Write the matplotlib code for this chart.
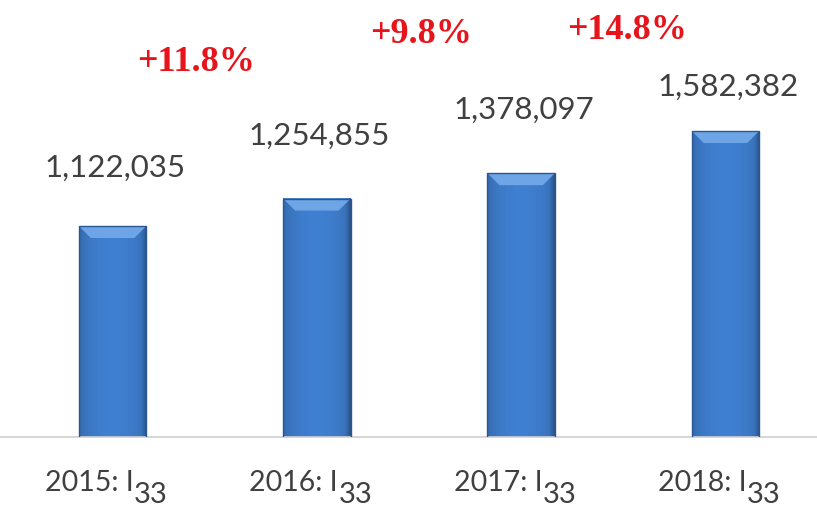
import numpy as np
import matplotlib
matplotlib.use('Agg')
import matplotlib.pyplot as plt
from matplotlib.patches import Rectangle, Polygon

years = ['2015', '2016', '2017', '2018']
values = [1122035, 1254855, 1378097, 1582382]
sub_label = '33'

fig = plt.figure(figsize=(8.17, 5.08), dpi=100)
ax = fig.add_axes([0, 71 / 508, 1, 437 / 508])
ax.set_xlim(-0.551, 3.448)
ax.set_ylim(100000, 2217000)
for s in ['top', 'right', 'left']:
    ax.spines[s].set_visible(False)
ax.spines['bottom'].set_color('#d0d0d0')
ax.spines['bottom'].set_linewidth(1.2)
ax.set_yticks([])
ax.set_xticks([])

x = np.arange(len(values))
width = 0.33
bars = ax.bar(x, values, width=width, color='#3c78c6', edgecolor='none', zorder=2)

# shading across each bar: darker at the sides, lighter in the middle
fig.canvas.draw()
px_x = ax.transData.transform((1, 0))[0] - ax.transData.transform((0, 0))[0]
px_y = (ax.transData.transform((0, 200000))[1] - ax.transData.transform((0, 100000))[1]) / 100000
grad = np.linspace(0, 1, 64)
shade = 0.80 + 0.20 * np.sin(np.pi * grad) ** 0.5
shade[-6:] *= np.linspace(1, 0.8, 6)
base = np.array([0.25, 0.50, 0.82])
img = np.clip(base[None, None, :] * shade[None, :, None], 0, 1)
bevel_px = 12
for b in bars:
    x0, w, h = b.get_x(), b.get_width(), b.get_height()
    top = h
    im = ax.imshow(img, extent=(x0, x0 + w, 0, top), aspect='auto',
                   zorder=2.5, interpolation='bicubic')
    im.set_clip_path(b)
    im.set_clip_box(ax.bbox)
    dx = bevel_px / px_x
    dy = bevel_px / px_y
    bev = Polygon([(x0, top), (x0 + w, top), (x0 + w - dx, top - dy), (x0 + dx, top - dy)],
                  closed=True, facecolor='#6ea5e6', edgecolor='none', zorder=2.7)
    ax.add_patch(bev)
    ax.add_patch(Rectangle((x0, 0), w, h, fill=False, edgecolor='#2a5792',
                           linewidth=1.0, zorder=2.8))

ax.set_aspect('auto')
ax.set_xlim(-0.551, 3.448)
ax.set_ylim(100000, 2217000)

# value labels above bars
label_offsets = [58, 63, 63, 44]
for xi, v, off in zip(x, values, label_offsets):
    ax.annotate(f'{v:,}', (xi, v), xytext=(2, off * 0.72), textcoords='offset points',
                ha='center', va='center', fontsize=22.5, color='#404040', family='Lato')

# growth between consecutive years
pct_x = [0.41, 1.51, 2.52]
pct_y = [0.856, 0.920, 0.931]
for i in range(len(values) - 1):
    g = (values[i + 1] / values[i] - 1) * 100
    ax.text(pct_x[i], pct_y[i], f'+{g:.1f}%', transform=ax.get_xaxis_transform(),
            ha='center', va='center', fontsize=26, fontweight='bold',
            color='#e8141c', family='Liberation Serif')

# category labels with lowered "33"
for xi, yr in zip(x, years):
    t = ax.annotate(f'{yr}: I', (xi, 0), xycoords=ax.get_xaxis_transform(),
                    xytext=(21 * 0.72, -46 * 0.72), textcoords='offset points',
                    ha='right', va='center', fontsize=20.5, color='#404040', family='Lato',
                    annotation_clip=False)
    ax.annotate(sub_label, (1, 0.5), xycoords=t, xytext=(0.5, -12 * 0.72),
                textcoords='offset points', ha='left', va='center', fontsize=21,
                color='#404040', family='Lato', annotation_clip=False)

plt.savefig('out.png', dpi=100, facecolor='w')
